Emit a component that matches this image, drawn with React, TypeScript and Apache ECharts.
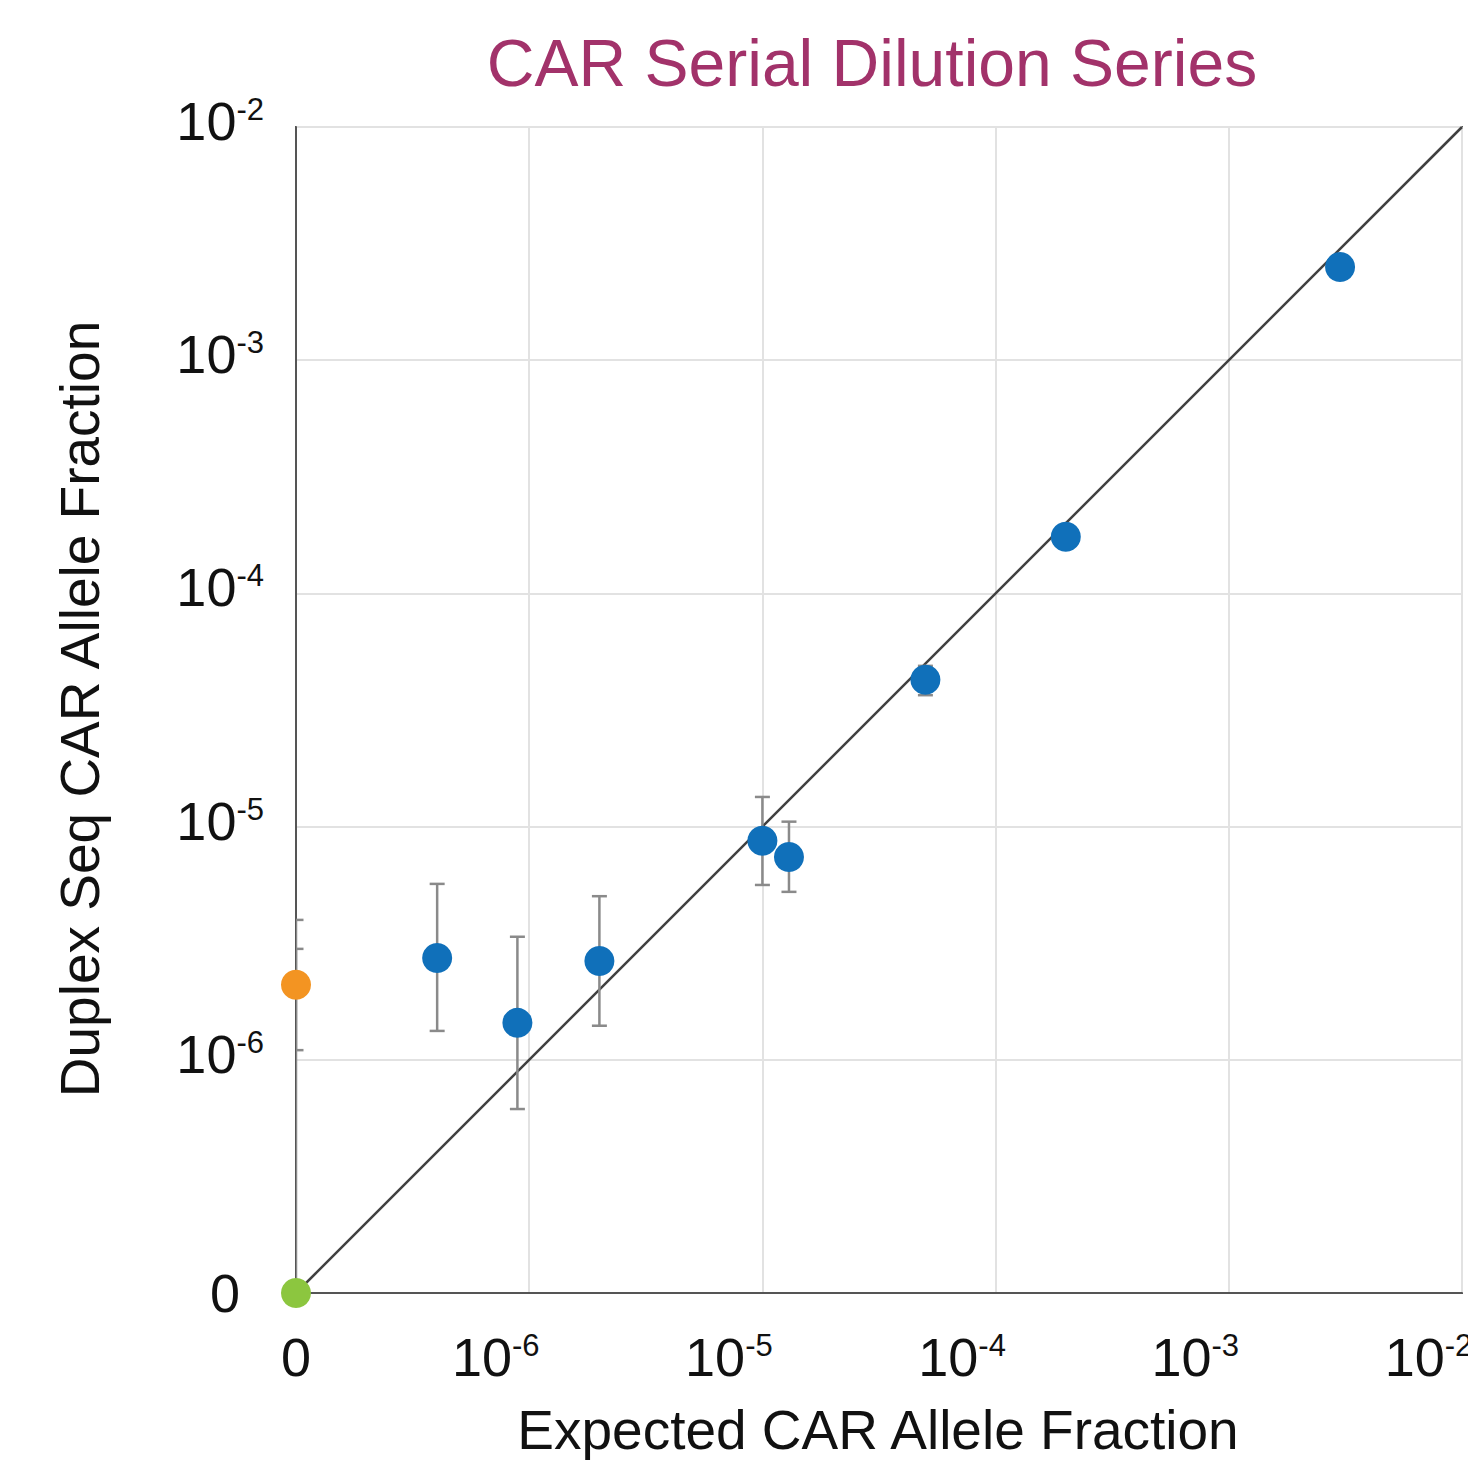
import React, { useEffect, useRef } from "react";
import * as echarts from "echarts";

// Axis "0" is drawn at the 1e-7 position of the log scale
const AXIS_ZERO = 1e-7;
const AXIS_MAX = 1e-2;

// Dilution samples (blue)
const EXPECTED = [4.03e-7, 8.9e-7, 2.0e-6, 1.0e-5, 1.3e-5, 5.0e-5, 2.0e-4, 3.0e-3];
const OBSERVED = [2.73e-6, 1.44e-6, 2.65e-6, 8.7e-6, 7.4e-6, 4.26e-5, 1.75e-4, 2.51e-3];
const ERR_LOW = [1.33e-6, 6.15e-7, 1.4e-6, 5.62e-6, 5.25e-6, 3.66e-5, null, null];
const ERR_HIGH = [5.68e-6, 3.37e-6, 5.03e-6, 1.34e-5, 1.05e-5, 4.89e-5, null, null];

// Controls at expected 0
const ORANGE_POINT = [0, 2.1e-6];
const ORANGE_ERR = [1.1e-6, 2.99e-6];
const GREEN_POINT = [0, 0];
const GREEN_ERR = [0, 3.98e-6];

// Identity line
const DIAGONAL = [0, 1e-2];

const TITLE = "CAR Serial Dilution Series";
const X_NAME = "Expected CAR Allele Fraction";
const Y_NAME = "Duplex Seq CAR Allele Fraction";

const FONT = '"Liberation Sans", Arial, Helvetica, sans-serif';

const toAxis = (v: number) => (v <= 0 ? AXIS_ZERO : v);

export default function App() {
  const ref = useRef<HTMLDivElement>(null);

  useEffect(() => {
    if (!ref.current) return;
    const chart = echarts.init(ref.current, null, { renderer: "svg" });

    const errData: any[] = [];
    EXPECTED.forEach((x, i) => {
      if (ERR_LOW[i] != null && ERR_HIGH[i] != null) {
        errData.push([toAxis(x), ERR_LOW[i], ERR_HIGH[i]]);
      }
    });
    errData.push([toAxis(ORANGE_POINT[0]), toAxis(ORANGE_ERR[0]), toAxis(ORANGE_ERR[1])]);
    errData.push([toAxis(GREEN_POINT[0]), toAxis(GREEN_ERR[0]), toAxis(GREEN_ERR[1])]);

    const expOf = (v: number) => Math.round(Math.log10(v));

    const labelFormatter = (v: number) => {
      const e = expOf(v);
      if (e === -7) return "{z|0}";
      return `{b|10}{s|-${Math.abs(e)}}`;
    };

    const option: any = {
      animation: false,
      backgroundColor: "#ffffff",
      textStyle: { fontFamily: FONT },
      grid: {
        left: 296,
        top: 127,
        right: 6,
        bottom: 167,
        show: true,
        borderColor: "#555555",
        borderWidth: 2,
        containLabel: false,
        outerBoundsMode: "none",
      },
      xAxis: {
        type: "log",
        logBase: 10,
        min: AXIS_ZERO,
        max: AXIS_MAX,
        interval: 1,
        axisLine: { show: true, lineStyle: { color: "#555555", width: 2 } },
        axisTick: { show: false },
        splitLine: { show: true, lineStyle: { color: "#e2e2e2", width: 2 } },
        axisLabel: {
          show: true,
          showMinLabel: true,
          showMaxLabel: true,
          hideOverlap: false,
          margin: 37,
          formatter: labelFormatter,
          rich: {
            z: { fontSize: 54, lineHeight: 54, color: "#111", fontFamily: FONT },
            b: { fontSize: 54, lineHeight: 54, color: "#111", fontFamily: FONT },
            s: {
              fontSize: 31,
              lineHeight: 32,
              verticalAlign: "top",
              color: "#111",
              fontFamily: FONT,
              padding: [0, 67, 0, 0],
            },
          },
        },
      },
      yAxis: {
        type: "log",
        logBase: 10,
        min: AXIS_ZERO,
        max: AXIS_MAX,
        interval: 1,
        axisLine: { show: true, lineStyle: { color: "#555555", width: 2 } },
        axisTick: { show: false },
        splitLine: { show: true, lineStyle: { color: "#e2e2e2", width: 2 } },
        axisLabel: {
          show: true,
          showMinLabel: true,
          showMaxLabel: true,
          hideOverlap: false,
          margin: 32,
          align: "right",
          padding: [0, 0, 12, 0],
          formatter: labelFormatter,
          rich: {
            z: {
              fontSize: 54,
              lineHeight: 54,
              color: "#111",
              fontFamily: FONT,
              padding: [12, 24, 0, 0],
            },
            b: { fontSize: 54, lineHeight: 54, color: "#111", fontFamily: FONT },
            s: { fontSize: 31, lineHeight: 37, verticalAlign: "top", color: "#111", fontFamily: FONT },
          },
        },
      },
      graphic: [
        {
          type: "text",
          style: {
            text: TITLE,
            x: 872,
            y: 63,
            fill: "#A2326A",
            font: `66px ${FONT}`,
            textAlign: "center",
            textVerticalAlign: "middle",
          },
        },
        {
          type: "text",
          style: {
            text: X_NAME,
            x: 878,
            y: 1430,
            fill: "#111",
            font: `55px ${FONT}`,
            textAlign: "center",
            textVerticalAlign: "middle",
          },
        },
        {
          type: "text",
          x: 80,
          y: 709,
          rotation: Math.PI / 2,
          style: {
            text: Y_NAME,
            x: 0,
            y: 0,
            fill: "#111",
            font: `55px ${FONT}`,
            textAlign: "center",
            textVerticalAlign: "middle",
          },
        },
      ],
      series: [
        {
          type: "line",
          data: [
            [toAxis(DIAGONAL[0]), toAxis(DIAGONAL[0])],
            [toAxis(DIAGONAL[1]), toAxis(DIAGONAL[1])],
          ],
          symbol: "none",
          lineStyle: { color: "#404040", width: 2.5 },
          z: 2,
          silent: true,
        },
        {
          type: "custom",
          data: errData,
          clip: true,
          z: 3,
          renderItem: (params: any, api: any) => {
            const x = api.value(0);
            const lo = api.coord([x, api.value(1)]);
            const hi = api.coord([x, api.value(2)]);
            const half = 7.5;
            const style = { stroke: "#8a8a8a", lineWidth: 2.5 };
            return {
              type: "group",
              children: [
                { type: "line", shape: { x1: lo[0], y1: lo[1], x2: hi[0], y2: hi[1] }, style },
                { type: "line", shape: { x1: hi[0] - half, y1: hi[1], x2: hi[0] + half, y2: hi[1] }, style },
                { type: "line", shape: { x1: lo[0] - half, y1: lo[1], x2: lo[0] + half, y2: lo[1] }, style },
              ],
            };
          },
        },
        {
          type: "scatter",
          data: EXPECTED.map((x, i) => [toAxis(x), OBSERVED[i]]),
          symbol: "circle",
          symbolSize: 30,
          itemStyle: { color: "#1070BA", opacity: 1 },
          z: 5,
          clip: false,
        },
        {
          type: "scatter",
          data: [[toAxis(ORANGE_POINT[0]), toAxis(ORANGE_POINT[1])]],
          symbol: "circle",
          symbolSize: 30,
          itemStyle: { color: "#F39422", opacity: 1 },
          z: 5,
          clip: false,
        },
        {
          type: "scatter",
          data: [[toAxis(GREEN_POINT[0]), toAxis(GREEN_POINT[1])]],
          symbol: "circle",
          symbolSize: 30,
          itemStyle: { color: "#8CC63F", opacity: 1 },
          z: 5,
          clip: false,
        },
      ],
    };

    chart.setOption(option);
    return () => chart.dispose();
  }, []);

  return (
    <div
      ref={ref}
      style={{ position: "absolute", left: 0, top: 0, width: 1468, height: 1460, background: "#fff" }}
    />
  );
}
